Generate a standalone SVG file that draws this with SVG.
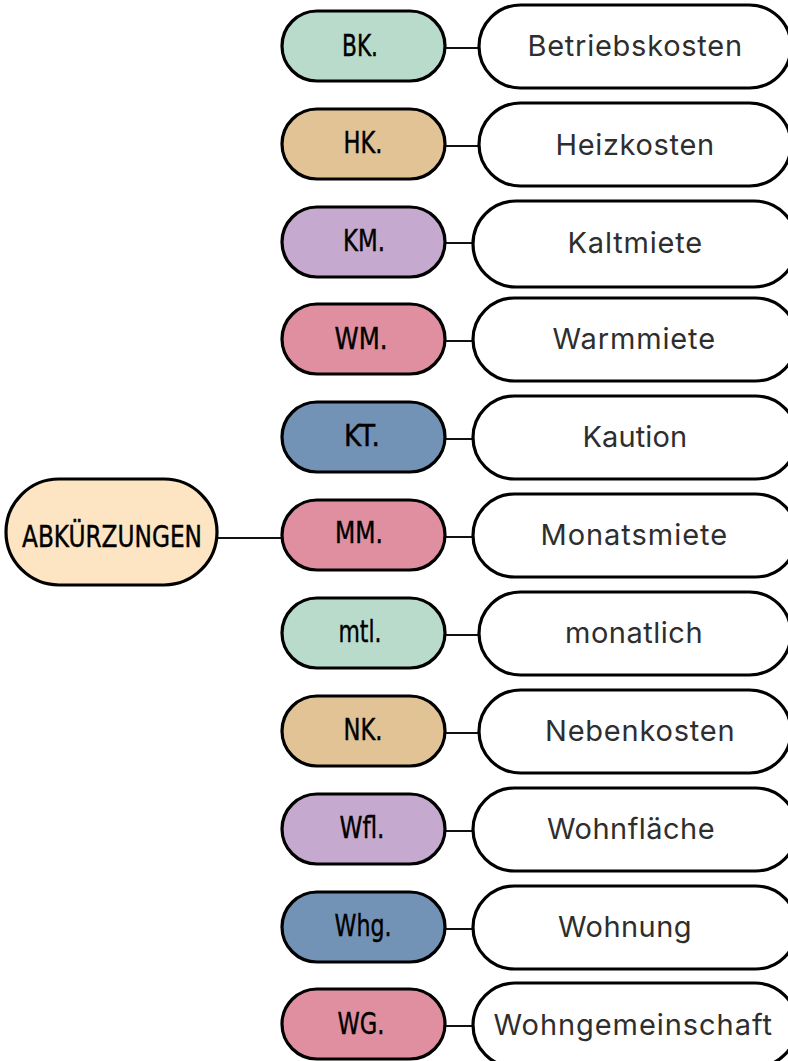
<svg xmlns="http://www.w3.org/2000/svg" width="788" height="1061" viewBox="0 0 788 1061">
  <style>
    .box { stroke: #000; stroke-width: 3.2; }
    .term { fill: #fff; stroke: #000; stroke-width: 3.2; }
    .abbr { font-family: "Liberation Sans Narrow", "DejaVu Sans Condensed", "Liberation Sans", sans-serif; font-size: 31px; fill: #000; stroke: #000; stroke-width: 0.4; text-anchor: middle; }
    .full { font-family: Inter, "Noto Sans", "Liberation Sans", sans-serif; font-size: 29px; fill: #2e2e2e; text-anchor: middle; letter-spacing: 0.4px; }
    .link { stroke: #111; stroke-width: 2; fill: none; }
    .green { fill: #b9dbcb; }
    .tan { fill: #e1c396; }
    .lilac { fill: #c6a9ce; }
    .rose { fill: #df8fa0; }
    .blue { fill: #7292b6; }
    .root { fill: #fde4c3; }
  </style>
  <rect width="788" height="1061" fill="#fff"/>

  <!-- connectors -->
  <g id="connectors">
    <line class="link" x1="217" y1="538" x2="282" y2="538"/>
    <line class="link" x1="445" y1="48" x2="479" y2="48"/>
    <line class="link" x1="445" y1="146" x2="479" y2="146"/>
    <line class="link" x1="445" y1="243" x2="473" y2="243"/>
    <line class="link" x1="445" y1="341" x2="473" y2="341"/>
    <line class="link" x1="445" y1="439" x2="473" y2="439"/>
    <line class="link" x1="445" y1="537" x2="473" y2="537"/>
    <line class="link" x1="445" y1="635" x2="479" y2="635"/>
    <line class="link" x1="445" y1="733" x2="479" y2="733"/>
    <line class="link" x1="445" y1="831" x2="473" y2="831"/>
    <line class="link" x1="445" y1="929" x2="473" y2="929"/>
    <line class="link" x1="445" y1="1026" x2="473" y2="1026"/>
  </g>

  <!-- central topic -->
  <g id="node-root">
    <rect class="box root" x="6" y="479" width="211" height="106" rx="53"/>
    <text class="abbr" x="112" y="547" textLength="180" lengthAdjust="spacingAndGlyphs">ABKÜRZUNGEN</text>
  </g>

  <!-- abbreviation / meaning pairs -->
  <g id="node-bk">
    <rect class="box green" x="282" y="11" width="163" height="70" rx="35"/>
    <text class="abbr" x="360" y="56" textLength="36" lengthAdjust="spacingAndGlyphs">BK.</text>
  </g>
  <g id="node-betriebskosten">
    <rect class="term" x="479" y="5" width="312" height="83" rx="41.5"/>
    <text class="full" x="635" y="56" textLength="215" lengthAdjust="spacing">Betriebskosten</text>
  </g>

  <g id="node-hk">
    <rect class="box tan" x="282" y="109" width="163" height="70" rx="35"/>
    <text class="abbr" x="363" y="153" textLength="39" lengthAdjust="spacingAndGlyphs">HK.</text>
  </g>
  <g id="node-heizkosten">
    <rect class="term" x="479" y="103" width="312" height="83" rx="41.5"/>
    <text class="full" x="635" y="155" textLength="159" lengthAdjust="spacing">Heizkosten</text>
  </g>

  <g id="node-km">
    <rect class="box lilac" x="282" y="207" width="163" height="70" rx="35"/>
    <text class="abbr" x="364" y="251" textLength="42" lengthAdjust="spacingAndGlyphs">KM.</text>
  </g>
  <g id="node-kaltmiete">
    <rect class="term" x="473" y="201" width="324" height="86" rx="43"/>
    <text class="full" x="635" y="253" textLength="135" lengthAdjust="spacing">Kaltmiete</text>
  </g>

  <g id="node-wm">
    <rect class="box rose" x="282" y="304" width="163" height="70" rx="35"/>
    <text class="abbr" x="361" y="349" textLength="53" lengthAdjust="spacingAndGlyphs">WM.</text>
  </g>
  <g id="node-warmmiete">
    <rect class="term" x="473" y="298" width="324" height="83" rx="41.5"/>
    <text class="full" x="634" y="349" textLength="163" lengthAdjust="spacing">Warmmiete</text>
  </g>

  <g id="node-kt">
    <rect class="box blue" x="282" y="402" width="163" height="70" rx="35"/>
    <text class="abbr" x="362" y="446" textLength="36" lengthAdjust="spacingAndGlyphs">KT.</text>
  </g>
  <g id="node-kaution">
    <rect class="term" x="473" y="396" width="324" height="83" rx="41.5"/>
    <text class="full" x="635" y="447" textLength="105" lengthAdjust="spacing">Kaution</text>
  </g>

  <g id="node-mm">
    <rect class="box rose" x="282" y="500" width="163" height="70" rx="35"/>
    <text class="abbr" x="359" y="543" textLength="48" lengthAdjust="spacingAndGlyphs">MM.</text>
  </g>
  <g id="node-monatsmiete">
    <rect class="term" x="473" y="494" width="324" height="83" rx="41.5"/>
    <text class="full" x="634" y="545" textLength="187" lengthAdjust="spacing">Monatsmiete</text>
  </g>

  <g id="node-mtl">
    <rect class="box green" x="282" y="598" width="163" height="70" rx="35"/>
    <text class="abbr" x="360" y="642" textLength="43" lengthAdjust="spacingAndGlyphs">mtl.</text>
  </g>
  <g id="node-monatlich">
    <rect class="term" x="479" y="592" width="312" height="83" rx="41.5"/>
    <text class="full" x="634" y="643" textLength="138" lengthAdjust="spacing">monatlich</text>
  </g>

  <g id="node-nk">
    <rect class="box tan" x="282" y="696" width="163" height="70" rx="35"/>
    <text class="abbr" x="363" y="740" textLength="39" lengthAdjust="spacingAndGlyphs">NK.</text>
  </g>
  <g id="node-nebenkosten">
    <rect class="term" x="479" y="690" width="312" height="83" rx="41.5"/>
    <text class="full" x="640" y="741" textLength="190" lengthAdjust="spacing">Nebenkosten</text>
  </g>

  <g id="node-wfl">
    <rect class="box lilac" x="282" y="794" width="163" height="70" rx="35"/>
    <text class="abbr" x="362" y="838" textLength="45" lengthAdjust="spacingAndGlyphs">Wfl.</text>
  </g>
  <g id="node-wohnflaeche">
    <rect class="term" x="473" y="788" width="324" height="83" rx="41.5"/>
    <text class="full" x="631" y="839" textLength="168" lengthAdjust="spacing">Wohnfläche</text>
  </g>

  <g id="node-whg">
    <rect class="box blue" x="282" y="892" width="163" height="70" rx="35"/>
    <text class="abbr" x="363" y="936" textLength="57" lengthAdjust="spacingAndGlyphs">Whg.</text>
  </g>
  <g id="node-wohnung">
    <rect class="term" x="473" y="886" width="324" height="83" rx="41.5"/>
    <text class="full" x="625" y="937" textLength="134" lengthAdjust="spacing">Wohnung</text>
  </g>

  <g id="node-wg">
    <rect class="box rose" x="282" y="989" width="163" height="70" rx="35"/>
    <text class="abbr" x="361" y="1034" textLength="47" lengthAdjust="spacingAndGlyphs">WG.</text>
  </g>
  <g id="node-wohngemeinschaft">
    <rect class="term" x="473" y="983" width="324" height="84" rx="42"/>
    <text class="full" x="633" y="1035" textLength="279" lengthAdjust="spacing">Wohngemeinschaft</text>
  </g>
</svg>
